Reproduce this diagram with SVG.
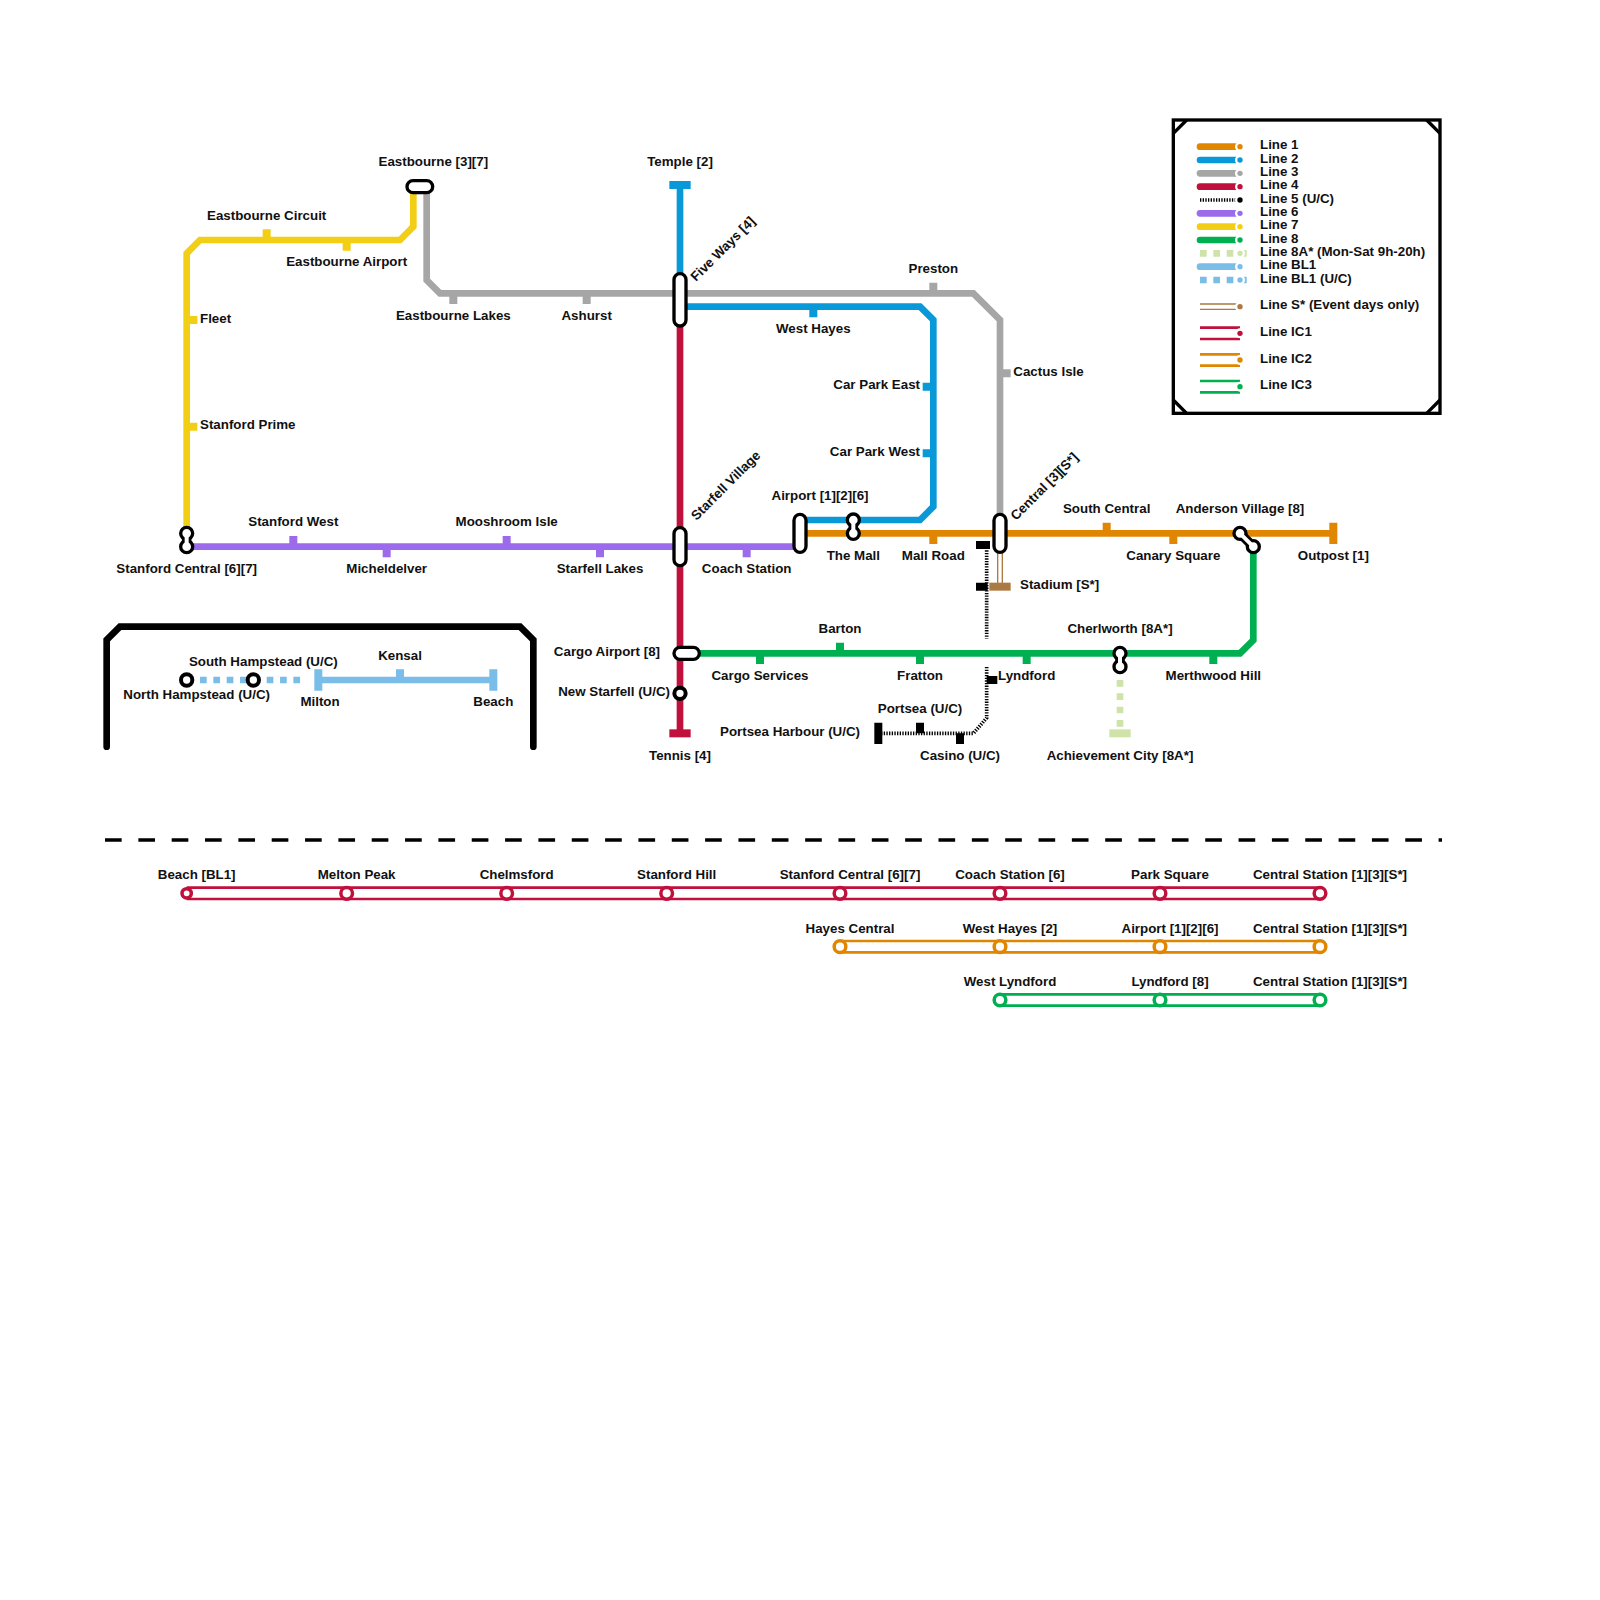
<svg xmlns="http://www.w3.org/2000/svg" width="1600" height="1600" viewBox="0 0 1600 1600">
<style>
text{font-family:"Liberation Sans",Arial,sans-serif;font-weight:bold;font-size:13.33px;fill:#111}
.m{text-anchor:middle}.e{text-anchor:end}
.l{fill:none;stroke-width:6.67;stroke-linejoin:miter}
.t{fill:none;stroke-width:8}
.o{stroke:#e08600}.b{stroke:#0998d8}.g{stroke:#a6a6a6}.r{stroke:#c0103c}.p{stroke:#9b6beb}.y{stroke:#f2cf14}.n{stroke:#00b050}.lg{stroke:#cfe3a8}.lb{stroke:#7abde8}.k{stroke:#000}.s{stroke:#ab7a42}
.d{stroke-dasharray:6.67 6.67}
.u{fill:none;stroke:#000;stroke-width:3.67;stroke-dasharray:1.33 1.33}
.st{fill:#fff;stroke:#000;stroke-width:3.33}
.c{fill:#fff;stroke:#000;stroke-width:4}
.nk{fill:none;stroke:#000;stroke-width:9.5}
.nw{fill:none;stroke:#fff;stroke-width:4}
.ic{fill:none;stroke-width:2.67}
.ics{fill:#fff;stroke-width:3.5}
.frame{fill:none;stroke:#000;stroke-width:6.67;stroke-linecap:round}
.cn{fill:none;stroke:#000;stroke-width:3.33}
</style>
<defs>
<g id="vpeanut"><line class="nk" x1="0" y1="0" x2="0" y2="13.33"/><circle class="st" r="6"/><circle class="st" cy="13.33" r="6"/><line class="nw" x1="0" y1="0" x2="0" y2="13.33"/></g>
</defs>
<g id="connectors">
<path class="l y" d="M186.67 533.33V253.33L200 240H400L413.33 226.67V186.67"/>
<path class="l g" d="M426.67 186.67V280L440 293.33H973.33L1000 320V520"/>
<path class="l b" d="M680 185V280M680 306.67H920L933.33 320V506.67L920 520H800"/>
<path class="l r" d="M680 320V733.33"/>
<path class="l p" d="M186.67 546.67H800"/>
<path class="l o" d="M800 533.33H1333.33"/>
<path class="l n" d="M1253.33 546.67V640L1240 653.33H680"/>
<path class="l lg d" d="M1120 666.67V733.33"/>
<path class="l lb d" d="M186.67 680H306.67"/>
<path class="l lb" d="M318.33 680H493.33"/>
<path class="u" d="M986.67 545V638.5M986.67 667V718L973.33 733.33H878.33"/>
<path class="s" fill="none" stroke-width="1.33" d="M997.67 546.67V586.67M1002.33 546.67V586.67"/>
<g class="t y"><path d="M266.67 240V229.33M346.67 240V250.67M186.67 320H197.33M186.67 426.67H197.33"/></g>
<g class="t g"><path d="M453.33 293.33V304M586.67 293.33V304M933.33 293.33V282.67M1000 373.33H1010.67"/></g>
<g class="t b"><path d="M669.33 185H690.67M813.33 306.67V317.33M933.33 386.67H922.67M933.33 453.33H922.67"/></g>
<g class="t p"><path d="M293.33 546.67V536M386.67 546.67V557.33M506.67 546.67V536M600 546.67V557.33M746.67 546.67V557.33"/></g>
<g class="t o"><path d="M933.33 533.33V544M1106.67 533.33V522.67M1173.33 533.33V544M1333.33 522.67V544"/></g>
<g class="t n"><path d="M760 653.33V664M840 653.33V642.67M920 653.33V664M1026.67 653.33V664M1213.33 653.33V664"/></g>
<g class="t r"><path d="M669.33 733.33H690.67"/></g>
<g class="t lg"><path d="M1109.33 733.33H1130.67"/></g>
<g class="t lb"><path d="M318.33 669.33V690.67M400 680V669.33M493.33 669.33V690.67"/></g>
<g class="t s"><path d="M989.33 586.67H1010.67"/></g>
<g class="t k"><path d="M976 545H990M976 586.67H987.67M986.67 680H997.33M878.33 722.67V744M920 733.33V722.67M960 733.33V744"/></g>
</g>
<g id="node-eastbourne"><rect class="st" x="407" y="180.67" width="25.67" height="12" rx="6"/><text class="m" x="433.33" y="166">Eastbourne [3][7]</text></g>
<g id="node-temple"><text class="m" x="680" y="166">Temple [2]</text></g>
<g id="node-eastbourne-circuit"><text class="m" x="266.67" y="220">Eastbourne Circuit</text></g>
<g id="node-eastbourne-airport"><text class="m" x="346.67" y="266">Eastbourne Airport</text></g>
<g id="node-fleet"><text x="200" y="323">Fleet</text></g>
<g id="node-stanford-prime"><text x="200" y="429.33">Stanford Prime</text></g>
<g id="node-eastbourne-lakes"><text class="m" x="453.33" y="320">Eastbourne Lakes</text></g>
<g id="node-ashurst"><text class="m" x="586.67" y="320">Ashurst</text></g>
<g id="node-five-ways"><rect class="st" x="674" y="273.67" width="12" height="52.33" rx="6"/><text transform="translate(696 282) rotate(-45)">Five Ways [4]</text></g>
<g id="node-preston"><text class="m" x="933.33" y="273">Preston</text></g>
<g id="node-west-hayes"><text class="m" x="813.33" y="333.33">West Hayes</text></g>
<g id="node-car-park-east"><text class="e" x="920" y="389">Car Park East</text></g>
<g id="node-car-park-west"><text class="e" x="920" y="456">Car Park West</text></g>
<g id="node-cactus-isle"><text x="1013.33" y="376.33">Cactus Isle</text></g>
<g id="node-stanford-central"><use href="#vpeanut" x="186.67" y="533.33"/><text class="m" x="186.67" y="573.33">Stanford Central [6][7]</text></g>
<g id="node-stanford-west"><text class="m" x="293.33" y="526">Stanford West</text></g>
<g id="node-micheldelver"><text class="m" x="386.67" y="573.33">Micheldelver</text></g>
<g id="node-mooshroom-isle"><text class="m" x="506.67" y="526">Mooshroom Isle</text></g>
<g id="node-starfell-lakes"><text class="m" x="600" y="573.33">Starfell Lakes</text></g>
<g id="node-starfell-village"><rect class="st" x="674" y="527.67" width="12" height="38" rx="6"/><text transform="translate(696.5 521) rotate(-45)">Starfell Village</text></g>
<g id="node-coach-station"><text class="m" x="746.67" y="573.33">Coach Station</text></g>
<g id="node-airport"><rect class="st" x="794" y="514.33" width="12" height="38" rx="6"/><text class="m" x="820" y="500">Airport [1][2][6]</text></g>
<g id="node-the-mall"><use href="#vpeanut" x="853.33" y="520"/><text class="m" x="853.33" y="560">The Mall</text></g>
<g id="node-mall-road"><text class="m" x="933.33" y="560">Mall Road</text></g>
<g id="node-central"><rect class="st" x="994" y="514.33" width="12" height="38" rx="6"/><text transform="translate(1016 521) rotate(-45)">Central [3][S*]</text></g>
<g id="node-south-central"><text class="m" x="1106.67" y="513.33">South Central</text></g>
<g id="node-canary-square"><text class="m" x="1173.33" y="560">Canary Square</text></g>
<g id="node-anderson-village"><line class="nk" x1="1240" y1="533.33" x2="1253.33" y2="546.67"/><circle class="st" cx="1240" cy="533.33" r="6"/><circle class="st" cx="1253.33" cy="546.67" r="6"/><line class="nw" x1="1240" y1="533.33" x2="1253.33" y2="546.67"/><text class="m" x="1240" y="513.33">Anderson Village [8]</text></g>
<g id="node-outpost"><text class="m" x="1333.33" y="560">Outpost [1]</text></g>
<g id="node-stadium"><text x="1020" y="589.33">Stadium [S*]</text></g>
<g id="node-cargo-airport"><rect class="st" x="674" y="647.33" width="25.33" height="12" rx="6"/><text class="e" x="660" y="656">Cargo Airport [8]</text></g>
<g id="node-cargo-services"><text class="m" x="760" y="680">Cargo Services</text></g>
<g id="node-barton"><text class="m" x="840" y="633.33">Barton</text></g>
<g id="node-fratton"><text class="m" x="920" y="680">Fratton</text></g>
<g id="node-lyndford"><text class="m" x="1026.67" y="680">Lyndford</text></g>
<g id="node-cherlworth"><use href="#vpeanut" x="1120" y="653.33"/><text class="m" x="1120" y="633.33">Cherlworth [8A*]</text></g>
<g id="node-merthwood-hill"><text class="m" x="1213.33" y="680">Merthwood Hill</text></g>
<g id="node-new-starfell"><circle class="c" cx="680" cy="693.33" r="5.67"/><text class="e" x="670" y="696">New Starfell (U/C)</text></g>
<g id="node-tennis"><text class="m" x="680" y="760">Tennis [4]</text></g>
<g id="node-portsea"><text class="m" x="920" y="713.33">Portsea (U/C)</text></g>
<g id="node-portsea-harbour"><text class="e" x="860" y="736">Portsea Harbour (U/C)</text></g>
<g id="node-casino"><text class="m" x="960" y="760">Casino (U/C)</text></g>
<g id="node-achievement-city"><text class="m" x="1120" y="760">Achievement City [8A*]</text></g>
<g id="inset">
<path class="frame" d="M106.67 746.67V640L120 626.67H520L533.33 640V746.67"/>
<circle class="c" cx="186.67" cy="680" r="5.67"/><circle class="c" cx="253.33" cy="680" r="5.67"/>
<text class="m" x="263.33" y="666">South Hampstead (U/C)</text>
<text class="m" x="196.67" y="699.33">North Hampstead (U/C)</text>
<text class="m" x="400" y="660">Kensal</text>
<text class="m" x="320" y="706">Milton</text>
<text class="m" x="493.33" y="706">Beach</text>
</g>
<g id="legend">
<rect class="cn" x="1173.33" y="120" width="266.67" height="293.33"/>
<path class="cn" d="M1173.33 133.33L1186.67 120M1426.67 120L1440 133.33M1173.33 400L1186.67 413.33M1426.67 413.33L1440 400"/>
<g fill="none" stroke-width="6.67" stroke-linecap="round">
<path class="o" d="M1200 146.67H1240"/><path class="b" d="M1200 160H1240"/><path class="g" d="M1200 173.33H1240"/><path class="r" d="M1200 186.67H1240"/><path class="p" d="M1200 213.33H1240"/><path class="y" d="M1200 226.67H1240"/><path class="n" d="M1200 240H1240"/><path class="lb" d="M1200 266.67H1240"/>
</g>
<path class="u" d="M1200 200H1240"/>
<path class="l lg d" d="M1200 253.33H1246.67"/>
<path class="l lb d" d="M1200 280H1246.67"/>
<path class="s" fill="none" stroke-width="1.33" d="M1200 304H1240M1200 309.33H1240"/>
<path class="ic r" d="M1200 327.67H1240M1200 339H1240"/>
<path class="ic o" d="M1200 354.33H1240M1200 365.67H1240"/>
<path class="ic n" d="M1200 381H1240M1200 392.33H1240"/>
<g fill="#fff" stroke="none">
<circle cx="1240" cy="146.67" r="5"/><circle cx="1240" cy="160" r="5"/><circle cx="1240" cy="173.33" r="5"/><circle cx="1240" cy="186.67" r="5"/><circle cx="1240" cy="200" r="5"/><circle cx="1240" cy="213.33" r="5"/><circle cx="1240" cy="226.67" r="5"/><circle cx="1240" cy="240" r="5"/><circle cx="1240" cy="253.33" r="5"/><circle cx="1240" cy="266.67" r="5"/><circle cx="1240" cy="280" r="5"/><circle cx="1240" cy="306.67" r="5"/><circle cx="1240" cy="333.33" r="5"/><circle cx="1240" cy="360" r="5"/><circle cx="1240" cy="386.67" r="5"/>
</g>
<g stroke="none">
<circle fill="#e08600" cx="1240" cy="146.67" r="2.67"/><circle fill="#0998d8" cx="1240" cy="160" r="2.67"/><circle fill="#a6a6a6" cx="1240" cy="173.33" r="2.67"/><circle fill="#c0103c" cx="1240" cy="186.67" r="2.67"/><circle fill="#000" cx="1240" cy="200" r="2.67"/><circle fill="#9b6beb" cx="1240" cy="213.33" r="2.67"/><circle fill="#f2cf14" cx="1240" cy="226.67" r="2.67"/><circle fill="#00b050" cx="1240" cy="240" r="2.67"/><circle fill="#cfe3a8" cx="1240" cy="253.33" r="2.67"/><circle fill="#7abde8" cx="1240" cy="266.67" r="2.67"/><circle fill="#7abde8" cx="1240" cy="280" r="2.67"/><circle fill="#ab7a42" cx="1240" cy="306.67" r="2.67"/><circle fill="#c0103c" cx="1240" cy="333.33" r="2.67"/><circle fill="#e08600" cx="1240" cy="360" r="2.67"/><circle fill="#00b050" cx="1240" cy="386.67" r="2.67"/>
</g>
<text x="1260" y="149.33">Line 1</text><text x="1260" y="162.67">Line 2</text><text x="1260" y="176">Line 3</text><text x="1260" y="189.33">Line 4</text><text x="1260" y="202.67">Line 5 (U/C)</text><text x="1260" y="216">Line 6</text><text x="1260" y="229.33">Line 7</text><text x="1260" y="242.67">Line 8</text><text x="1260" y="256">Line 8A* (Mon-Sat 9h-20h)</text><text x="1260" y="269.33">Line BL1</text><text x="1260" y="282.67">Line BL1 (U/C)</text><text x="1260" y="309.33">Line S* (Event days only)</text><text x="1260" y="336">Line IC1</text><text x="1260" y="362.67">Line IC2</text><text x="1260" y="389.33">Line IC3</text>
</g>
<line id="separator" x1="105" y1="840" x2="1442" y2="840" stroke="#000" stroke-width="3.33" stroke-dasharray="16.67 16.67"/>
<g id="ic-lines">
<path class="ic r" d="M186.67 887.67H1320M186.67 899H1320"/>
<path class="ic o" d="M840 941H1320M840 952.33H1320"/>
<path class="ic n" d="M1000 994.33H1320M1000 1005.67H1320"/>
</g>
<g id="ic1">
<circle class="ics r" cx="186.67" cy="893.33" r="4.67"/><circle class="ics r" cx="346.67" cy="893.33" r="5.83"/><circle class="ics r" cx="506.67" cy="893.33" r="5.83"/><circle class="ics r" cx="666.67" cy="893.33" r="5.83"/><circle class="ics r" cx="840" cy="893.33" r="5.83"/><circle class="ics r" cx="1000" cy="893.33" r="5.83"/><circle class="ics r" cx="1160" cy="893.33" r="5.83"/><circle class="ics r" cx="1320" cy="893.33" r="5.83"/>
<text class="m" x="196.67" y="879.33">Beach [BL1]</text><text class="m" x="356.67" y="879.33">Melton Peak</text><text class="m" x="516.67" y="879.33">Chelmsford</text><text class="m" x="676.67" y="879.33">Stanford Hill</text><text class="m" x="850" y="879.33">Stanford Central [6][7]</text><text class="m" x="1010" y="879.33">Coach Station [6]</text><text class="m" x="1170" y="879.33">Park Square</text><text class="m" x="1330" y="879.33">Central Station [1][3][S*]</text>
</g>
<g id="ic2">
<circle class="ics o" cx="840" cy="946.67" r="5.83"/><circle class="ics o" cx="1000" cy="946.67" r="5.83"/><circle class="ics o" cx="1160" cy="946.67" r="5.83"/><circle class="ics o" cx="1320" cy="946.67" r="5.83"/>
<text class="m" x="850" y="932.67">Hayes Central</text><text class="m" x="1010" y="932.67">West Hayes [2]</text><text class="m" x="1170" y="932.67">Airport [1][2][6]</text><text class="m" x="1330" y="932.67">Central Station [1][3][S*]</text>
</g>
<g id="ic3">
<circle class="ics n" cx="1000" cy="1000" r="5.83"/><circle class="ics n" cx="1160" cy="1000" r="5.83"/><circle class="ics n" cx="1320" cy="1000" r="5.83"/>
<text class="m" x="1010" y="986">West Lyndford</text><text class="m" x="1170" y="986">Lyndford [8]</text><text class="m" x="1330" y="986">Central Station [1][3][S*]</text>
</g>
</svg>
